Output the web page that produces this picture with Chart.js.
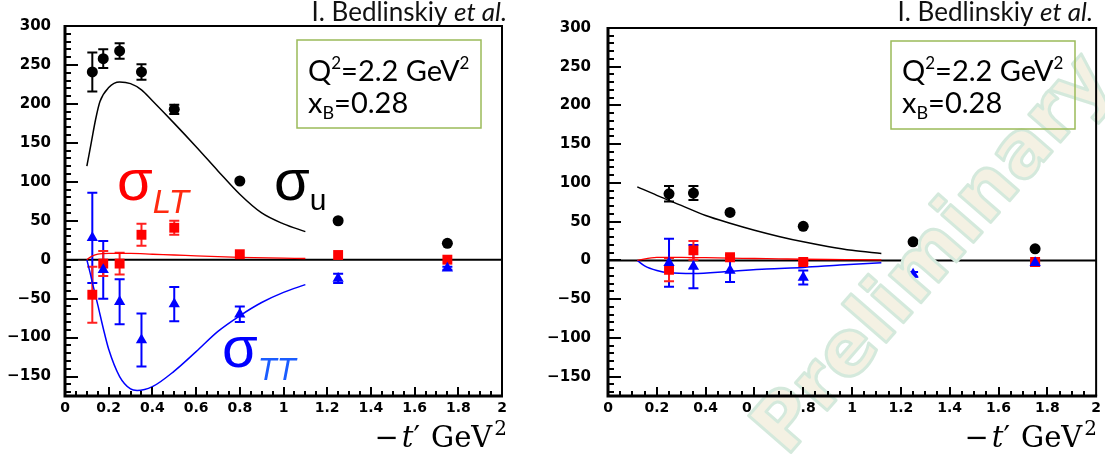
<!DOCTYPE html>
<html><head><meta charset="utf-8">
<script src="https://cdn.jsdelivr.net/npm/chart.js@4.4.1/dist/chart.umd.min.js"></script>
<style>
html,body{margin:0;padding:0;background:#fff;}
body{width:1105px;height:459px;overflow:hidden;position:relative;}
#c1{position:absolute;left:0;top:0;}
#c2{position:absolute;left:540px;top:0;}
</style></head>
<body>
<canvas id="c1" width="540" height="459"></canvas>
<canvas id="c2" width="565" height="459"></canvas>
<script>
// ---------------- DATA ----------------
// Left panel: measured points
const leftX        = [0.125, 0.175, 0.25, 0.35, 0.5, 0.8, 1.25, 1.75];
const leftSigU     = [241, 258, 268, 241, 193, 101, 50, 21];
const leftSigUErr  = [25, 12, 10, 10, 6, 0, 0, 0];
const leftSigLT    = [-45, -5, -5, 32, 41, 7, 6, 0];
const leftSigLTErr = [36, 16, 14, 14, 9, 0, 0, 0];
const leftSigTT    = [28, -13, -54, -103, -57, -70, -24, -11];
const leftSigTTErr = [58, 37, 29, 34, 22, 10, 6, 2];
// Left panel: model curves
const leftCurveUX  = [0.1, 0.12, 0.14, 0.16, 0.2, 0.25, 0.3, 0.35, 0.4, 0.5, 0.6, 0.7, 0.8, 0.9, 1.0, 1.1];
const leftCurveU   = [120, 150, 180, 203, 221, 228, 226, 218, 204, 175, 145, 114, 84, 60, 46, 36];
const leftCurveLTX = [0.1, 0.12, 0.15, 0.2, 0.3, 0.4, 0.5, 0.6, 0.8, 1.0, 1.1];
const leftCurveLT  = [0, 4, 7, 8, 8, 7, 6, 5, 3, 2, 1.5];
const leftCurveTTX = [0.1, 0.115, 0.13, 0.15, 0.175, 0.2, 0.25, 0.3, 0.33, 0.4, 0.5, 0.6, 0.7, 0.8, 0.9, 1.0, 1.1];
const leftCurveTT  = [0, -17, -35, -58, -88, -115, -150, -166, -168, -163, -143, -118, -92, -72, -55, -42, -32];

// Right panel: measured points
const rightX        = [0.25, 0.35, 0.5, 0.8, 1.25, 1.75];
const rightSigU     = [86, 87, 62, 44, 24, 15];
const rightSigUErr  = [10, 9, 0, 0, 0, 0];
const rightSigLT    = [-12, 13, 4, -2, 2, -2];
const rightSigLTErr = [15, 12, 3, 2, 0, 2];
const rightSigTT    = [-3, -8, -13, -22, -18, -3];
const rightSigTTErr = [31, 28, 15, 9, 3, 4];
// Right panel: model curves
const rightCurveUX  = [0.12, 0.2, 0.3, 0.4, 0.5, 0.6, 0.7, 0.8, 0.9, 1.0, 1.12];
const rightCurveU   = [95, 84, 71, 58, 48, 39, 31, 24, 18, 13, 9];
const rightCurveLTX = [0.12, 0.2, 0.3, 0.4, 0.5, 0.6, 0.7, 0.8, 0.9, 1.0, 1.12];
const rightCurveLT  = [0, 4, 4, 3.5, 3, 2.5, 2, 1.5, 1.2, 1, 0.8];
const rightCurveTTX = [0.12, 0.15, 0.2, 0.25, 0.35, 0.5, 0.65, 0.8, 0.95, 1.12];
const rightCurveTT  = [0, -7, -13, -16, -17, -14, -11, -9, -6, -3];

// Axes
const xMin = 0, xMax = 2, xStep = 0.2, xMinorStep = 0.05;
const yMin = -175, yMax = 300, yStep = 50, yMinorStep = 10;
const titleText = 'I. Bedlinskiy ';
const titleItalic = 'et al.';

// ---------------- HELPERS ----------------
const zip = (xs, ys) => xs.map((x, i) => ({x, y: ys[i]}));
const fmtY = v => (v < 0 ? '\u2212' + Math.abs(v) : String(v));

function drawRuns(ctx, runs, x, y, align) {
  let total = 0;
  runs.forEach(r => { ctx.font = r.font; r.w = ctx.measureText(r.t).width; total += r.w + (r.gap || 0); });
  let cx = align === 'right' ? x - total : x;
  runs.forEach(r => {
    ctx.font = r.font; ctx.fillStyle = r.color || '#000';
    ctx.textAlign = 'left'; ctx.textBaseline = 'alphabetic';
    ctx.fillText(r.t, cx, y + (r.dy || 0));
    cx += r.w + (r.gap || 0);
  });
}

function framePlugin(extraDraw, watermark) {
  return {
    id: 'frame',
    beforeDatasetsDraw(chart) {
      const {ctx, chartArea: a, scales: {x, y}} = chart;
      ctx.save();
      const y0 = y.getPixelForValue(0);
      ctx.strokeStyle = '#000'; ctx.lineWidth = 2;
      ctx.beginPath(); ctx.moveTo(a.left, y0); ctx.lineTo(a.right, y0); ctx.stroke();
      chart.data.datasets.forEach(ds => {
        if (!ds.errors) return;
        ctx.strokeStyle = ds.errColor || ds.backgroundColor; ctx.lineWidth = 2;
        ds.data.forEach((p, j) => {
          const e = ds.errors[j]; if (!e) return;
          const px = x.getPixelForValue(p.x);
          const yt = y.getPixelForValue(p.y + e), yb = y.getPixelForValue(p.y - e);
          ctx.beginPath();
          ctx.moveTo(px, yt); ctx.lineTo(px, yb);
          ctx.moveTo(px - 5, yt); ctx.lineTo(px + 5, yt);
          ctx.moveTo(px - 5, yb); ctx.lineTo(px + 5, yb);
          ctx.stroke();
        });
      });
      ctx.restore();
    },
    afterDatasetsDraw(chart) {
      if (watermark) watermark(chart);
    },
    afterDraw(chart) {
      const {ctx, chartArea: a, scales: {x, y}} = chart;
      ctx.save();
      ctx.strokeStyle = '#000';
      ctx.lineWidth = 2;
      ctx.beginPath(); ctx.moveTo(a.left, a.top); ctx.lineTo(a.right, a.top); ctx.lineTo(a.right, a.bottom); ctx.stroke();
      ctx.lineWidth = 3;
      ctx.beginPath(); ctx.moveTo(a.left, a.top - 1); ctx.lineTo(a.left, a.bottom); ctx.lineTo(a.right + 1, a.bottom); ctx.stroke();
      ctx.lineWidth = 2;
      for (let v = Math.ceil(yMin / yMinorStep) * yMinorStep; v < yMax; v += yMinorStep) {
        const py = Math.round(y.getPixelForValue(v));
        const len = (v % yStep === 0) ? 13 : 6;
        ctx.beginPath(); ctx.moveTo(a.left, py); ctx.lineTo(a.left + len, py); ctx.stroke();
      }
      const n = Math.round((xMax - xMin) / xMinorStep);
      const per = Math.round(xStep / xMinorStep);
      for (let k = 1; k < n; k++) {
        const px = Math.round(x.getPixelForValue(xMin + k * xMinorStep));
        const len = (k % per === 0) ? 9 : 5;
        ctx.beginPath(); ctx.moveTo(px, a.bottom); ctx.lineTo(px, a.bottom - len); ctx.stroke();
      }
      ctx.restore();
      extraDraw(chart, ctx);
    }
  };
}

function baseOptions(yWidth, padding, yPad) {
  return {
    responsive: false, animation: false, devicePixelRatio: 1,
    layout: {padding},
    plugins: {legend: {display: false}, tooltip: {enabled: false}, title: {display: false}},
    scales: {
      x: {
        type: 'linear', min: xMin, max: xMax,
        grid: {display: false, drawTicks: false}, border: {display: false},
        ticks: {stepSize: xStep, padding: 4, color: '#000', maxRotation: 0,
                font: {family: 'DejaVu Sans', weight: 'bold', size: 14},
                callback: v => String(+v.toFixed(2))},
        afterFit: s => { s.height = 63; }
      },
      y: {
        type: 'linear', min: yMin, max: yMax,
        grid: {display: false, drawTicks: false}, border: {display: false},
        ticks: {stepSize: yStep, padding: yPad, color: '#000',
                font: {family: 'DejaVu Sans', weight: 'bold', size: 15},
                callback: v => fmtY(v)},
        afterBuildTicks: s => { s.ticks = s.ticks.filter(t => t.value % yStep === 0); },
        afterFit: s => { s.width = yWidth; }
      }
    }
  };
}

function pointDS(xs, ys, errs, color, style, r, errColor) {
  return {data: zip(xs, ys), errors: errs, backgroundColor: color, borderColor: color, errColor,
          pointStyle: style, pointRadius: r, borderWidth: 0, showLine: false, order: 1};
}
function curveDS(xs, ys, color, w) {
  return {data: zip(xs, ys), borderColor: color, backgroundColor: color, borderWidth: w,
          pointRadius: 0, showLine: true, cubicInterpolationMode: 'monotone', order: 2};
}

function drawCommon(ctx, titleRight, axisRight, boxL, boxT, textX) {
  drawRuns(ctx, [
    {t: titleText, font: '26px Lato', color: '#111'},
    {t: titleItalic, font: 'italic 26px Lato', color: '#111'}
  ], titleRight, 21, 'right');
  ctx.save();
  ctx.strokeStyle = '#9bbb59'; ctx.lineWidth = 1.5;
  ctx.strokeRect(boxL, boxT, 184, 88);
  ctx.restore();
  drawRuns(ctx, [
    {t: 'Q', font: '29px Lato'}, {t: '2', font: '17px Lato', dy: -12},
    {t: '=2.2 GeV', font: '29px Lato'}, {t: '2', font: '17px Lato', dy: -12}
  ], textX, 81, 'left');
  drawRuns(ctx, [
    {t: 'x', font: '29px Lato'}, {t: 'B', font: '18px Lato', dy: 6},
    {t: '=0.28', font: '29px Lato'}
  ], textX, 113, 'left');
  drawRuns(ctx, [
    {t: '\u2212', font: '29px "DejaVu Serif"', gap: 3},
    {t: 't', font: 'italic 29px "DejaVu Serif"'},
    {t: '\u2032', font: '29px "DejaVu Serif"', gap: 11},
    {t: 'GeV', font: '29px "DejaVu Serif"', gap: 2},
    {t: '2', font: '20px "DejaVu Serif"', dy: -12}
  ], axisRight, 447, 'right');
}

// ---------------- LEFT CHART ----------------
const optL = baseOptions(65, {top: 26, right: 38, left: 0, bottom: 0}, 14);
new Chart(document.getElementById('c1'), {
  type: 'scatter',
  data: {datasets: [
    pointDS(leftX, leftSigU, leftSigUErr, '#000000', 'circle', 5.5),
    pointDS(leftX, leftSigTT, leftSigTTErr, '#0000ff', 'triangle', 6.5),
    pointDS(leftX, leftSigLT, leftSigLTErr, '#ff0000', 'rect', 7, '#ff2020'),
    curveDS(leftCurveUX, leftCurveU, '#000000', 1.5),
    curveDS(leftCurveLTX, leftCurveLT, '#ff0000', 1.3),
    curveDS(leftCurveTTX, leftCurveTT, '#0000ff', 1.5)
  ]},
  options: optL,
  plugins: [framePlugin((chart, ctx) => {
    drawCommon(ctx, 507, 507, 297, 40, 308);
    drawRuns(ctx, [{t: '\u03c3', font: '58px "Liberation Sans"', color: '#ff0000'},
                   {t: 'LT', font: 'italic 33px "Liberation Sans"', color: '#ff2a10', dy: 13}], 117, 200, 'left');
    drawRuns(ctx, [{t: '\u03c3', font: '58px "Liberation Sans"', color: '#000'},
                   {t: 'u', font: '30px "Liberation Sans"', color: '#000', dy: 10}], 274, 200, 'left');
    drawRuns(ctx, [{t: '\u03c3', font: '58px "Liberation Sans"', color: '#0000ff'},
                   {t: 'TT', font: 'italic 31px "Liberation Sans"', color: '#1a5cff', dy: 13}], 222, 367, 'left');
  })]
});

// ---------------- RIGHT CHART ----------------
const optR = baseOptions(68, {top: 28, right: 8, left: 0, bottom: 0}, 17);
new Chart(document.getElementById('c2'), {
  type: 'scatter',
  data: {datasets: [
    pointDS(rightX, rightSigU, rightSigUErr, '#000000', 'circle', 5.5),
    pointDS(rightX, rightSigTT, rightSigTTErr, '#0000ff', 'triangle', 6.5),
    pointDS(rightX, rightSigLT, rightSigLTErr, '#ff0000', 'rect', 7, '#ff2020'),
    curveDS(rightCurveUX, rightCurveU, '#000000', 1.5),
    curveDS(rightCurveLTX, rightCurveLT, '#ff0000', 1.3),
    curveDS(rightCurveTTX, rightCurveTT, '#0000ff', 1.5)
  ]},
  options: optR,
  plugins: [framePlugin((chart, ctx) => {
    drawCommon(ctx, 553, 557, 351, 41, 362);
  }, (chart) => {
    const ctx = chart.ctx;
    ctx.save();
    ctx.translate(395, 256);
    ctx.rotate(-49 * Math.PI / 180);
    ctx.font = 'bold 76px "DejaVu Sans"';
    const w = ctx.measureText('Preliminary').width;
    const s = 500 / w;
    ctx.font = 'bold ' + (76 * s).toFixed(1) + 'px "DejaVu Sans"';
    ctx.textAlign = 'center'; ctx.textBaseline = 'middle';
    ctx.lineJoin = 'round';
    ctx.lineWidth = 3; ctx.strokeStyle = '#d4e9dc';
    ctx.fillStyle = '#f4f1e3';
    ctx.fillText('Preliminary', 0, 0);
    ctx.strokeText('Preliminary', 0, 0);
    ctx.restore();
  })]
});
</script>
</body></html>
